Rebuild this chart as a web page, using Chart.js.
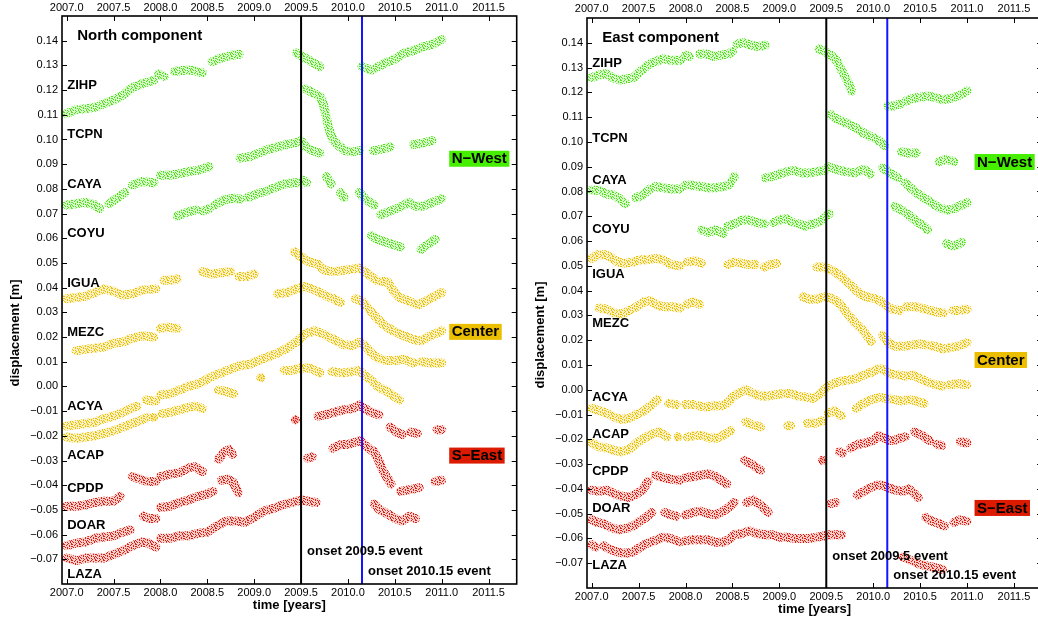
<!DOCTYPE html>
<html>
<head>
<meta charset="utf-8">
<script src="https://cdn.jsdelivr.net/npm/chart.js@4"></script>
<style>
html,body{margin:0;padding:0;background:#fff;overflow:hidden;width:1038px;height:618px;}
canvas{position:absolute;top:0;}
#north{left:0;}
#east{left:525px;}
</style>
</head>
<body>
<canvas id="north" width="530" height="618"></canvas>
<canvas id="east" width="530" height="618"></canvas>
<script>
// axes
const yearTicks = [2007.0, 2007.5, 2008.0, 2008.5, 2009.0, 2009.5, 2010.0, 2010.5, 2011.0, 2011.5];
const dispTicks = [-0.07, -0.06, -0.05, -0.04, -0.03, -0.02, -0.01, 0.00, 0.01, 0.02, 0.03, 0.04, 0.05, 0.06, 0.07, 0.08, 0.09, 0.10, 0.11, 0.12, 0.13, 0.14];
const yearMin = 2006.95, yearMax = 2011.8;
const dispMin = -0.08, dispMax = 0.15;

const stations = ['ZIHP', 'TCPN', 'CAYA', 'COYU', 'IGUA', 'MEZC', 'ACYA', 'ACAP', 'CPDP', 'DOAR', 'LAZA'];
const stationGroup = [0, 0, 0, 0, 1, 1, 1, 1, 2, 2, 2];
const groups = ['N\u2212West', 'Center', 'S\u2212East'];
const groupDot = ['#52e01a', '#e8c000', '#dc2010'];
const groupTint = ['rgba(82,224,26,0.22)', 'rgba(232,192,0,0.22)', 'rgba(220,32,16,0.22)'];
const groupBox = ['#46ee00', '#ecbe00', '#dc1a00'];

const eventYears = [2009.5, 2010.15];
const eventLabels = ['onset 2009.5 event', 'onset 2010.15 event'];
const eventColors = ['#000000', '#1414ff'];

// label anchors (displacement values where the names sit)
const labelPosN = [0.122, 0.1021, 0.082, 0.0619, 0.0419, 0.0219, -0.0082, -0.0281, -0.0411, -0.0561, -0.0761];
const labelPosE = [0.1317, 0.1016, 0.0846, 0.0648, 0.0466, 0.0268, -0.0033, -0.0181, -0.0331, -0.0479, -0.0710];
const groupPosN = [0.0922, 0.0221, -0.028];
const groupPosE = [0.0919, 0.012, -0.0477];
const eventPosN = [-0.067, -0.0751];
const eventPosE = [-0.0671, -0.0751];

// ---- North component, [year, displacement m], null = gap
const ZIHP_N = [[2007.00,.1105],[2007.10,.112],[2007.20,.1125],[2007.30,.113],[2007.40,.1145],[2007.50,.116],[2007.60,.118],[2007.70,.121],[2007.80,.1225],[2007.93,.124],null,[2007.98,.1265],[2008.04,.1255],null,[2008.15,.1275],[2008.25,.128],[2008.35,.128],[2008.45,.127],null,[2008.55,.1315],[2008.65,.133],[2008.75,.134],[2008.84,.1345],null,[2009.45,.135],[2009.52,.1335],[2009.60,.1318],[2009.70,.1295],null,[2010.15,.1295],[2010.25,.128],null,[2010.30,.129],[2010.40,.131],[2010.50,.1325],[2010.60,.135],[2010.70,.136],[2010.80,.1375],[2010.90,.1385],[2011.00,.1405]];
const TCPN_N = [[2009.55,.1205],[2009.62,.119],[2009.70,.1175],[2009.74,.114],[2009.77,.109],[2009.80,.104],[2009.84,.100],[2009.90,.0975],[2009.97,.0955],[2010.05,.095],[2010.12,.0955],null,[2010.27,.0955],[2010.35,.096],[2010.45,.097],null,[2010.70,.098],[2010.80,.0985],[2010.90,.0995]];
const CAYA_N = [[2007.00,.0735],[2007.10,.074],[2007.20,.0745],[2007.30,.0735],[2007.35,.072],null,[2007.45,.074],[2007.55,.0765],[2007.62,.0785],null,[2007.70,.0815],[2007.80,.083],[2007.93,.0825],null,[2008.00,.0855],[2008.10,.0855],[2008.20,.0862],[2008.30,.087],[2008.40,.0875],[2008.52,.089],null,[2008.85,.0925],[2008.95,.093],[2009.05,.0945],[2009.15,.096],[2009.25,.097],[2009.35,.098],[2009.43,.0985],[2009.50,.0995],[2009.55,.097],[2009.62,.0955],[2009.70,.0945],null,[2009.77,.085],[2009.82,.082],null,[2009.92,.0785],[2009.96,.0765],null,[2010.12,.0785],[2010.20,.0755],[2010.28,.0735],null,[2010.35,.0695],[2010.45,.071],[2010.55,.0725],[2010.65,.0745],[2010.72,.073],[2010.80,.073],[2010.90,.0745],[2011.00,.076]];
const COYU_N = [[2008.18,.069],[2008.28,.0705],[2008.38,.0715],null,[2008.45,.071],[2008.52,.072],null,[2008.58,.0735],[2008.68,.0755],[2008.78,.0762],[2008.85,.0758],null,[2008.93,.0765],[2009.00,.0775],[2009.08,.0785],null,[2009.12,.079],[2009.22,.0805],[2009.32,.082],[2009.42,.0825],[2009.47,.0825],null,[2009.52,.0835],[2009.56,.0825],null,[2010.25,.061],[2010.32,.0595],[2010.40,.0585],[2010.48,.0575],[2010.56,.0565],null,[2010.78,.0555],[2010.85,.0575],[2010.93,.0595]];
const IGUA_N = [[2007.00,.0355],[2007.10,.036],[2007.20,.0365],[2007.30,.038],[2007.40,.0395],[2007.50,.0385],[2007.60,.037],[2007.70,.0375],[2007.80,.039],[2007.95,.0395],null,[2008.04,.043],[2008.10,.043],[2008.18,.0435],null,[2008.45,.0465],[2008.55,.0455],[2008.65,.046],[2008.75,.0465],null,[2008.84,.0445],[2008.92,.0445],[2009.00,.0455],null,[2009.43,.0545],[2009.50,.0525],[2009.58,.0505],[2009.68,.0495],[2009.75,.047],[2009.85,.0465],[2009.95,.047],[2010.05,.0475],[2010.12,.048],[2010.18,.0465],[2010.25,.0445],[2010.30,.043],null,[2010.35,.0425],[2010.42,.0425],[2010.48,.039],[2010.55,.036],[2010.65,.0345],[2010.75,.033],[2010.85,.035],[2010.95,.037],[2011.00,.038]];
const MEZC_N = [[2007.10,.0145],[2007.20,.015],[2007.30,.0155],[2007.40,.016],[2007.50,.0175],[2007.60,.018],[2007.70,.0195],[2007.80,.0205],[2007.93,.02],null,[2008.00,.0235],[2008.08,.024],[2008.18,.0235],null,[2009.25,.0375],[2009.35,.038],[2009.45,.0395],[2009.55,.0405],[2009.65,.039],[2009.75,.037],[2009.85,.0355],[2009.92,.034],null,[2010.08,.0355],[2010.15,.0345],[2010.22,.0315],[2010.30,.028],[2010.38,.025],[2010.48,.0225],[2010.60,.0205],[2010.70,.019],[2010.78,.0185],[2010.88,.0205],[2011.00,.0225]];
const ACYA_N = [[2007.00,-.016],[2007.10,-.0155],[2007.20,-.015],[2007.30,-.0145],[2007.40,-.013],[2007.50,-.012],[2007.60,-.0105],[2007.68,-.009],[2007.75,-.008],null,[2007.85,-.0055],[2007.95,-.006],null,[2008.00,-.0035],[2008.10,-.003],[2008.20,-.0015],[2008.30,0],[2008.40,.001],[2008.48,.0025],[2008.55,.004],[2008.65,.0055],[2008.75,.007],[2008.85,.0085],[2008.95,.009],[2009.05,.0105],[2009.15,.012],[2009.25,.0135],[2009.35,.0155],[2009.45,.018],[2009.55,.0215],[2009.65,.0225],[2009.75,.021],[2009.85,.019],[2009.95,.017],[2010.05,.0165],[2010.12,.018],[2010.18,.0165],[2010.25,.0135],[2010.32,.0115],[2010.40,.0105],[2010.50,.0105],[2010.60,.011],[2010.70,.0095],null,[2010.78,.01],[2010.90,.0095],[2011.00,.0095]];
const ACAP_N = [[2007.00,-.0205],[2007.10,-.021],[2007.20,-.0205],[2007.30,-.02],[2007.40,-.019],[2007.50,-.018],[2007.60,-.0165],[2007.70,-.015],[2007.80,-.0135],[2007.86,-.0125],null,[2007.93,-.0125],null,[2008.02,-.011],[2008.10,-.0105],[2008.20,-.0095],[2008.30,-.0085],[2008.38,-.008],[2008.45,-.009],null,[2008.62,-.0015],[2008.70,-.002],[2008.78,-.003],null,[2009.07,.0035],null,[2009.32,.0065],[2009.40,.0065],[2009.50,.0075],[2009.60,.0075],[2009.70,.0055],null,[2009.83,.006],[2009.95,.0055],[2010.05,.006],[2010.12,.0065],[2010.18,.0045],[2010.25,.0025],[2010.33,-.0005],[2010.40,-.0015],[2010.47,-.0035],[2010.55,-.0055]];
const CPDP_N = [[2007.70,-.0365],[2007.78,-.0375],[2007.86,-.0385],[2007.95,-.0385],null,[2008.00,-.0365],[2008.10,-.0355],[2008.20,-.035],[2008.30,-.033],[2008.37,-.0325],[2008.45,-.0345],null,[2008.62,-.0295],[2008.68,-.0265],[2008.73,-.0255],[2008.77,-.0275],null,[2009.57,-.029],[2009.62,-.0285],null,[2009.84,-.025],[2009.92,-.0235],[2010.00,-.0235],[2010.08,-.0225],[2010.14,-.022],[2010.20,-.0245],[2010.28,-.0265],[2010.33,-.03],[2010.37,-.034],[2010.42,-.037],[2010.46,-.0395],null,[2010.56,-.0425],[2010.63,-.042],[2010.70,-.0415],[2010.76,-.041],null,[2010.93,-.0385],[2011.00,-.038]];
const DOAR_N = [[2007.00,-.0485],[2007.10,-.0485],[2007.20,-.048],[2007.30,-.047],[2007.40,-.0465],[2007.50,-.0465],[2007.57,-.0445],null,[2008.00,-.049],[2008.10,-.0485],[2008.20,-.047],[2008.30,-.046],[2008.40,-.0445],[2008.50,-.0435],[2008.56,-.0425],null,[2008.65,-.038],[2008.72,-.0375],[2008.78,-.039],[2008.83,-.043],null,[2009.44,-.0135],null,[2009.68,-.012],[2009.75,-.0115],[2009.85,-.0105],[2009.95,-.0095],[2010.05,-.009],[2010.12,-.0075],[2010.18,-.009],[2010.25,-.0105],[2010.33,-.0115],null,[2010.45,-.0165],[2010.52,-.0185],[2010.58,-.0195],null,[2010.67,-.0185],[2010.74,-.019],null,[2010.95,-.0175],[2011.00,-.0175]];
const LAZA_N = [[2007.00,-.0645],[2007.10,-.0635],[2007.20,-.063],[2007.30,-.0615],[2007.40,-.061],[2007.50,-.0605],[2007.60,-.059],[2007.68,-.058],null,[2007.82,-.0525],[2007.88,-.0535],[2007.95,-.0535],null,[2007.00,-.0695],[2007.10,-.0705],[2007.20,-.0695],[2007.30,-.0695],[2007.40,-.0695],[2007.50,-.068],[2007.60,-.0665],[2007.70,-.0645],[2007.80,-.063],[2007.88,-.0635],[2007.95,-.065],null,[2008.00,-.0615],[2008.10,-.0615],[2008.20,-.0605],[2008.30,-.0605],[2008.40,-.0595],[2008.50,-.059],[2008.60,-.0565],[2008.70,-.0545],[2008.80,-.0545],[2008.90,-.055],[2009.00,-.053],[2009.10,-.0505],[2009.20,-.0495],[2009.30,-.048],[2009.40,-.047],[2009.50,-.046],[2009.58,-.0465],[2009.66,-.047],null,[2010.28,-.0475],[2010.34,-.05],[2010.42,-.0515],[2010.50,-.0535],[2010.58,-.0545],[2010.66,-.0525],[2010.72,-.0535]];

// ---- East component
const ZIHP_E = [[2007.00,.126],[2007.08,.127],[2007.15,.1275],[2007.22,.126],[2007.30,.125],[2007.38,.1255],[2007.45,.126],[2007.52,.1285],[2007.60,.131],[2007.68,.1325],[2007.76,.1335],[2007.84,.133],[2007.95,.133],null,[2008.00,.135],[2008.04,.1345],null,[2008.15,.1355],[2008.22,.1355],[2008.30,.1345],[2008.38,.135],[2008.46,.1355],[2008.50,.1365],null,[2008.55,.1395],[2008.62,.14],[2008.70,.139],[2008.78,.1385],[2008.85,.139],null,[2009.42,.1375],[2009.48,.1365],[2009.55,.135],[2009.62,.1325],[2009.66,.129],[2009.70,.1265],[2009.74,.1235],[2009.77,.1205]];
const TCPN_E = [[2009.55,.111],[2009.60,.1095],[2009.65,.1085],[2009.72,.1075],[2009.80,.106],[2009.88,.104],[2009.95,.1025],[2010.02,.1015],[2010.08,.100],[2010.12,.0985],null,[2010.16,.1145],[2010.22,.1145],[2010.30,.1155],null,[2010.35,.1165],[2010.42,.1175],[2010.50,.118],[2010.58,.1185],[2010.66,.118],[2010.74,.117],[2010.82,.1175],[2010.90,.1185],[2011.00,.1205],null,[2010.30,.096],[2010.38,.0955],[2010.46,.0955],null,[2010.70,.092],[2010.78,.093],[2010.86,.092]];
const CAYA_E = [[2007.00,.0805],[2007.08,.0805],[2007.16,.079],[2007.24,.0785],[2007.30,.077],[2007.36,.075],null,[2007.47,.0775],[2007.54,.0785],[2007.62,.081],null,[2007.68,.082],[2007.76,.0815],[2007.84,.081],[2007.94,.081],null,[2008.00,.0825],[2008.08,.0825],[2008.16,.082],[2008.24,.0815],[2008.32,.0815],[2008.40,.082],[2008.46,.0825],[2008.52,.086],null,[2008.85,.0855],[2008.92,.086],[2009.00,.087],[2009.08,.088],[2009.16,.0885],[2009.24,.0875],[2009.32,.0875],[2009.40,.088],[2009.48,.0885],null,[2009.52,.090],[2009.60,.089],[2009.70,.088],[2009.80,.0875],[2009.90,.089],[2009.97,.087],null,[2010.10,.0895],[2010.18,.0875],[2010.26,.0855],null,[2010.34,.0835],[2010.40,.0815],[2010.46,.0795],[2010.54,.0775],[2010.62,.0755],[2010.70,.0735],[2010.78,.0725],[2010.86,.073],[2010.94,.0745],[2011.00,.0755]];
const COYU_E = [[2008.17,.0645],[2008.24,.0635],[2008.32,.0645],[2008.40,.063],null,[2008.45,.066],[2008.52,.067],[2008.60,.0685],[2008.68,.0685],[2008.76,.0675],[2008.84,.067],null,[2008.94,.0675],[2009.00,.0685],[2009.08,.069],[2009.14,.0675],null,[2009.20,.067],[2009.28,.066],[2009.36,.067],[2009.44,.068],null,[2009.48,.0695],[2009.53,.071],null,[2010.23,.074],[2010.30,.0725],[2010.38,.0705],[2010.46,.068],[2010.54,.066],[2010.58,.0645],null,[2010.78,.059],[2010.84,.058],[2010.90,.0585],[2010.94,.0595]];
const IGUA_E = [[2007.00,.053],[2007.06,.0545],[2007.14,.0545],[2007.20,.0535],[2007.28,.0515],[2007.36,.051],[2007.44,.0515],[2007.52,.0525],[2007.60,.0525],[2007.68,.053],[2007.76,.0525],[2007.84,.0505],[2007.94,.050],null,[2008.02,.0515],[2008.10,.052],[2008.17,.051],null,[2008.45,.0505],[2008.52,.0515],[2008.60,.051],[2008.68,.0505],[2008.74,.0505],null,[2008.84,.0495],[2008.90,.0505],[2008.97,.051],null,[2009.40,.0495],[2009.47,.0495],[2009.54,.0485],[2009.60,.0475],[2009.66,.0455],[2009.72,.0435],[2009.78,.0415],[2009.85,.039],[2009.92,.0375],[2010.00,.037],[2010.07,.036],[2010.14,.034],[2010.20,.0325],[2010.28,.032],null,[2010.35,.0335],[2010.45,.0335],[2010.55,.0325],[2010.65,.0315],[2010.75,.031],null,[2010.85,.032],[2010.92,.032],[2011.00,.0325]];
const MEZC_E = [[2007.08,.033],[2007.16,.0325],[2007.24,.031],[2007.32,.0305],[2007.40,.032],[2007.48,.0335],[2007.56,.0355],[2007.62,.036],[2007.70,.034],[2007.78,.0335],[2007.86,.0335],[2007.94,.033],null,[2008.02,.0345],[2008.08,.0355],[2008.15,.0345],null,[2009.25,.0375],[2009.32,.0365],[2009.40,.0365],[2009.48,.0375],[2009.55,.037],[2009.62,.0355],[2009.70,.032],[2009.76,.029],[2009.82,.0265],[2009.88,.0245],[2009.94,.0215],[2009.98,.0195],null,[2010.10,.022],[2010.16,.019],[2010.24,.0175],[2010.32,.0175],[2010.40,.018],[2010.50,.0185],[2010.58,.018],[2010.66,.0175],[2010.74,.0165],[2010.82,.017],[2010.90,.0175],[2011.00,.019]];
const ACYA_E = [[2007.00,-.0075],[2007.08,-.0085],[2007.16,-.0095],[2007.24,-.011],[2007.32,-.012],[2007.40,-.0115],[2007.48,-.010],[2007.56,-.0085],[2007.64,-.006],[2007.70,-.004],null,[2007.82,-.0055],[2007.90,-.006],null,[2008.00,-.006],[2008.08,-.006],null,[2008.14,-.0065],[2008.22,-.007],[2008.30,-.0065],[2008.38,-.0065],[2008.44,-.0055],[2008.50,-.003],[2008.56,-.0015],[2008.64,0],[2008.72,-.0015],[2008.80,-.0025],[2008.88,-.0025],[2008.96,-.002],[2009.04,-.0015],[2009.12,-.0015],[2009.20,-.0025],[2009.28,-.003],[2009.36,-.0035],[2009.44,-.0015],[2009.50,.001],[2009.58,.0025],[2009.66,.0035],[2009.74,.004],[2009.82,.0045],[2009.90,.006],[2009.98,.007],[2010.06,.0085],[2010.12,.008],[2010.18,.0065],[2010.26,.006],[2010.34,.0055],[2010.42,.006],[2010.50,.0045],[2010.58,.003],[2010.66,.002],[2010.74,.0015],null,[2010.82,.002],[2010.90,.0025],[2011.00,.002]];
const ACAP_E = [[2007.00,-.0215],[2007.08,-.023],[2007.16,-.0235],[2007.24,-.0245],[2007.32,-.025],[2007.40,-.024],[2007.48,-.0215],[2007.56,-.0195],[2007.64,-.018],[2007.72,-.017],[2007.80,-.019],null,[2007.92,-.019],null,[2008.02,-.019],[2008.10,-.0185],[2008.18,-.0185],[2008.26,-.0195],[2008.34,-.0195],[2008.42,-.018],[2008.48,-.0165],null,[2008.64,-.013],[2008.70,-.014],null,[2008.76,-.0145],[2008.80,-.015],null,[2009.09,-.0145],[2009.12,-.0145],null,[2009.30,-.0135],[2009.38,-.0135],[2009.46,-.0125],null,[2009.52,-.0095],[2009.58,-.0085],[2009.66,-.0105],null,[2009.82,-.0075],[2009.90,-.0055],[2009.98,-.004],[2010.06,-.003],[2010.14,-.0035],[2010.22,-.004],[2010.30,-.0045],[2010.38,-.004],[2010.46,-.0045],[2010.54,-.0055]];
const CPDP_E = [[2007.00,-.0405],[2007.08,-.041],[2007.16,-.0405],[2007.24,-.042],[2007.32,-.043],[2007.40,-.0435],[2007.48,-.042],[2007.54,-.0405],[2007.60,-.037],null,[2007.68,-.0345],[2007.76,-.0355],[2007.84,-.036],[2007.94,-.0365],null,[2008.00,-.0355],[2008.08,-.035],[2008.16,-.0345],[2008.24,-.034],[2008.32,-.035],[2008.38,-.0365],[2008.44,-.038],null,[2008.63,-.0285],[2008.70,-.030],[2008.76,-.0315],[2008.80,-.0325],null,[2009.83,-.0425],[2009.90,-.041],[2009.97,-.0395],[2010.04,-.0385],[2010.10,-.0385],[2010.16,-.0395],[2010.24,-.0405],[2010.32,-.041],[2010.38,-.040],[2010.44,-.042],[2010.48,-.0435],null,[2010.56,-.0515],[2010.62,-.053],[2010.70,-.054],[2010.76,-.055],null,[2010.86,-.0535],[2010.92,-.0525],[2011.00,-.053]];
const DOAR_E = [[2007.00,-.0525],[2007.06,-.0535],[2007.12,-.054],[2007.20,-.0555],[2007.28,-.0565],[2007.36,-.056],[2007.44,-.055],[2007.52,-.053],[2007.58,-.0515],[2007.64,-.0495],null,[2007.78,-.0495],[2007.84,-.0505],[2007.90,-.051],null,[2008.00,-.0505],[2008.08,-.0495],[2008.16,-.049],[2008.24,-.050],[2008.32,-.0505],[2008.40,-.049],[2008.46,-.0475],[2008.52,-.0455],null,[2008.65,-.0455],[2008.72,-.0445],[2008.78,-.046],[2008.84,-.048],[2008.88,-.0495],null,[2009.46,-.0285],null,[2009.55,-.046],[2009.60,-.0455],null,[2009.64,-.025],[2009.67,-.0255],null,[2009.76,-.0235],[2009.84,-.022],[2009.92,-.0215],[2010.00,-.0205],[2010.06,-.0185],[2010.12,-.0195],[2010.18,-.0205],null,[2010.22,-.0205],[2010.28,-.0195],[2010.34,-.019],null,[2010.44,-.017],[2010.50,-.018],[2010.56,-.0195],[2010.60,-.0205],null,[2010.68,-.022],[2010.73,-.0225],null,[2010.93,-.021],[2011.00,-.0215]];
const LAZA_E = [[2007.00,-.0625],[2007.04,-.0635],null,[2007.13,-.063],[2007.20,-.0645],[2007.28,-.0655],[2007.36,-.066],[2007.44,-.0655],[2007.50,-.064],[2007.56,-.0625],[2007.62,-.0615],[2007.70,-.0605],[2007.76,-.0595],[2007.84,-.060],[2007.94,-.0615],null,[2008.00,-.061],[2008.08,-.0605],[2008.16,-.0605],[2008.24,-.0605],[2008.32,-.0615],[2008.40,-.0615],[2008.46,-.0605],[2008.52,-.0585],[2008.60,-.058],[2008.68,-.057],[2008.76,-.058],[2008.84,-.0585],[2008.92,-.0585],[2009.00,-.0595],[2009.08,-.0595],[2009.16,-.060],[2009.24,-.060],[2009.32,-.060],[2009.40,-.0595],[2009.47,-.059],[2009.54,-.0585],[2009.60,-.0585],[2009.66,-.0585],null,[2010.32,-.0675],[2010.38,-.0685],[2010.44,-.0695],[2010.50,-.0705],[2010.56,-.071],[2010.62,-.0715],[2010.68,-.072],[2010.74,-.0725]];

const northSeries = [ZIHP_N, TCPN_N, CAYA_N, COYU_N, IGUA_N, MEZC_N, ACYA_N, ACAP_N, CPDP_N, DOAR_N, LAZA_N];
const eastSeries = [ZIHP_E, TCPN_E, CAYA_E, COYU_E, IGUA_E, MEZC_E, ACYA_E, ACAP_E, CPDP_E, DOAR_E, LAZA_E];

const fontFamily = '"Liberation Sans", Arial, sans-serif';
const tickFont = { family: fontFamily, size: 11 };
const boldFont = size => 'bold ' + size + 'px ' + fontFamily;

// speckled texture so the bands read as clouds of daily points
const speckle = [
  'x..x...x',
  '..x..x..',
  'x....x.x',
  '.x.x....',
  '...x.x.x',
  'x.....x.',
  '.x.x..x.',
  '....x..x'
];
function speckPattern(g) {
  const c = document.createElement('canvas');
  c.width = 8; c.height = 8;
  const t = c.getContext('2d');
  t.fillStyle = groupTint[g];
  t.fillRect(0, 0, 8, 8);
  t.fillStyle = groupDot[g];
  speckle.forEach((row, r) => {
    for (let k = 0; k < row.length; k++) if (row[k] === 'x') t.fillRect(k, r, 1, 1);
  });
  return t.createPattern(c, 'repeat');
}

function toPoints(arr) {
  const out = [];
  let last = null;
  arr.forEach(p => {
    if (p === null) out.push({ x: last, y: null });
    else { out.push({ x: p[0], y: p[1] }); last = p[0]; }
  });
  return out;
}

function isolated(arr) {
  return arr.map((p, i) => p !== null && (i === 0 || arr[i - 1] === null) && (i === arr.length - 1 || arr[i + 1] === null));
}

function fmtDisp(v) {
  const s = Math.abs(v).toFixed(2);
  return v < -1e-9 ? '\u2212' + s : s;
}

function decor(panel) {
  return {
    id: 'decor',
    afterDraw(chart) {
      const { ctx, chartArea: a, scales: { x, y } } = chart;
      ctx.save();
      ctx.fillStyle = '#000';
      ctx.strokeStyle = '#000';

      // inward ticks on all four sides
      ctx.lineWidth = 1;
      ctx.beginPath();
      yearTicks.forEach(v => {
        const px = Math.round(x.getPixelForValue(v)) + 0.5;
        ctx.moveTo(px, a.bottom); ctx.lineTo(px, a.bottom - 5);
        ctx.moveTo(px, a.top); ctx.lineTo(px, a.top + 5);
      });
      dispTicks.forEach(v => {
        const py = Math.round(y.getPixelForValue(v)) + 0.5;
        ctx.moveTo(a.left, py); ctx.lineTo(a.left + 5, py);
        ctx.moveTo(a.right, py); ctx.lineTo(a.right - 5, py);
      });
      ctx.stroke();

      // frame
      ctx.lineWidth = 1.6;
      ctx.strokeRect(a.left, a.top, a.right - a.left, a.bottom - a.top);

      const x0 = x.getPixelForValue(yearTicks[0]);

      // panel title
      ctx.font = boldFont(15);
      ctx.textAlign = 'left';
      ctx.textBaseline = 'middle';
      ctx.fillText(panel.title, x0 + 10.5, a.top + 20);

      // station names
      ctx.font = boldFont(13);
      stations.forEach((s, i) => {
        ctx.fillText(s, x0 + 0.5, y.getPixelForValue(panel.labelPos[i]));
      });

      // group boxes
      ctx.font = boldFont(15);
      groups.forEach((g, i) => {
        const bx = x.getPixelForValue(2011.08);
        const by = y.getPixelForValue(panel.groupPos[i]);
        const w = ctx.measureText(g).width + 5;
        ctx.fillStyle = groupBox[i];
        ctx.fillRect(bx, by - 8, w, 16);
        ctx.fillStyle = '#000';
        ctx.fillText(g, bx + 2.5, by + 0.5);
      });

      // event labels
      ctx.font = boldFont(13);
      eventYears.forEach((ev, i) => {
        ctx.fillText(eventLabels[i], x.getPixelForValue(ev) + 6, y.getPixelForValue(panel.eventPos[i]));
      });

      // y title
      ctx.translate(15, panel.yTitleY);
      ctx.rotate(-Math.PI / 2);
      ctx.textAlign = 'center';
      ctx.fillText('displacement [m]', 0, 0);
      ctx.restore();
    }
  };
}

function makeChart(panel) {
  const canvas = document.getElementById(panel.canvas);
  const patterns = [0, 1, 2].map(speckPattern);
  const datasets = [];
  eventYears.forEach((ev, i) => {
    datasets.push({
      label: eventLabels[i],
      data: [{ x: ev, y: dispMin }, { x: ev, y: dispMax }],
      showLine: true, borderColor: eventColors[i], borderWidth: 2, pointRadius: 0
    });
  });
  panel.series.forEach((arr, i) => {
    const g = stationGroup[i];
    const lone = isolated(arr);
    datasets.push({
      label: stations[i],
      data: toPoints(arr),
      showLine: true,
      spanGaps: false,
      borderColor: patterns[g],
      borderWidth: 9,
      borderCapStyle: 'round',
      borderJoinStyle: 'round',
      pointRadius: c => (lone[c.dataIndex] ? 3.5 : 0),
      pointBackgroundColor: patterns[g],
      pointBorderWidth: 0
    });
  });

  const xCommon = {
    type: 'linear', axis: 'x', min: yearMin, max: yearMax,
    grid: { display: false, drawTicks: false }, border: { display: false },
    afterBuildTicks: s => { s.ticks = yearTicks.map(v => ({ value: v })); },
    ticks: { font: tickFont, color: '#000', maxRotation: 0, minRotation: 0, autoSkip: false, callback: v => v.toFixed(1) }
  };

  new Chart(canvas, {
    type: 'scatter',
    data: { datasets },
    options: {
      responsive: false,
      animation: false,
      layout: { padding: { left: 0, right: panel.rightPad, top: 0, bottom: 0 } },
      plugins: { legend: { display: false }, tooltip: { enabled: false } },
      scales: {
        x: Object.assign({}, xCommon, {
          position: 'bottom',
          afterFit: s => { s.height = panel.bottomH; },
          ticks: Object.assign({}, xCommon.ticks, { padding: 2 }),
          title: { display: true, text: 'time [years]', color: '#000', font: { family: fontFamily, size: 13, weight: 'bold' }, padding: { top: 0, bottom: panel.xTitlePad } }
        }),
        x2: Object.assign({}, xCommon, {
          position: 'top',
          afterFit: s => { s.height = panel.topH; },
          ticks: Object.assign({}, xCommon.ticks, { padding: panel.topPad })
        }),
        y: {
          type: 'linear', min: dispMin, max: dispMax,
          grid: { display: false, drawTicks: false }, border: { display: false },
          afterBuildTicks: s => { s.ticks = dispTicks.map(v => ({ value: v })); },
          afterFit: s => { s.width = panel.yWidth; },
          ticks: { font: tickFont, color: '#000', padding: 4, autoSkip: false, callback: v => fmtDisp(v) }
        }
      }
    },
    plugins: [decor(panel)]
  });
}

makeChart({ canvas: 'north', title: 'North component', series: northSeries, labelPos: labelPosN, groupPos: groupPosN, eventPos: eventPosN,
  topH: 16, bottomH: 34, topPad: 1, xTitlePad: 5, rightPad: 13.3, yWidth: 62, yTitleY: 333 });
makeChart({ canvas: 'east', title: 'East component', series: eastSeries, labelPos: labelPosE, groupPos: groupPosE, eventPos: eventPosE,
  topH: 18, bottomH: 30, topPad: 2, xTitlePad: 1, rightPad: 12.9, yWidth: 62, yTitleY: 335 });
</script>
</body>
</html>
